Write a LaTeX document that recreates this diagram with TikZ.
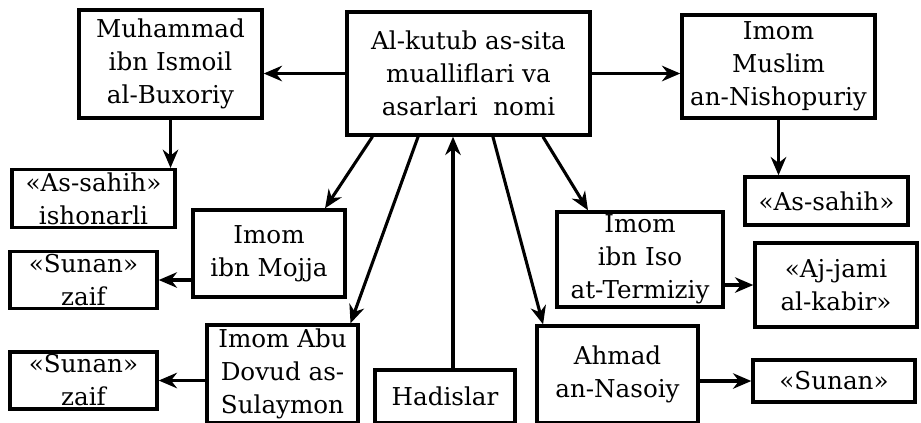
\documentclass[tikz,border=0pt]{standalone}
\usepackage{fontspec}
\setmainfont{DejaVu Serif}
\usetikzlibrary{arrows.meta}
\begin{document}
\begin{tikzpicture}[x=0.025cm, y=-0.025cm,
    box/.style={rectangle, draw, line width=2.4pt, align=center, inner sep=2pt, font=\fontsize{17.5}{23.5}\selectfont},
    arr/.style={-{Stealth[length=13pt,width=11pt]}, line width=2.2pt}]

    \useasboundingbox (0,0) rectangle (921,422);

    % Central box and the authors
    \node[box, minimum width=6.075cm, minimum height=3.075cm] (main) at (468.5,73.5) {Al-kutub as-sita\\ mualliflari va\\ asarlari\ \ nomi};
    \node[box, minimum width=4.575cm, minimum height=2.7cm] (bux) at (170.5,64) {Muhammad\\ ibn Ismoil\\ al-Buxoriy};
    \node[box, minimum width=4.825cm, minimum height=2.575cm] (mus) at (778.5,66.5) {Imom\\ Muslim\\ an-Nishopuriy};
    \node[box, minimum width=3.8cm, minimum height=2.175cm] (mojja) at (269,253.5) {Imom\\ ibn Mojja};
    \node[box, minimum width=3.775cm, minimum height=2.45cm] (dovud) at (282.5,374) {Imom Abu\\ Dovud as-\\ Sulaymon};
    \node[box, minimum width=3.5cm, minimum height=1.325cm] (hadis) at (445,396.5) {Hadislar};
    \node[box, minimum width=4.15cm, minimum height=2.375cm] (iso) at (640,259.5) {Imom\\ ibn Iso\\ at-Termiziy};
    \node[box, minimum width=4.025cm, minimum height=2.425cm] (nasoiy) at (617.5,374.5) {Ahmad\\ an-Nasoiy};

    % Their works
    \node[box, minimum width=4.075cm, minimum height=1.425cm] (sahihA) at (93.5,198.5) {«As-sahih»\\ ishonarli};
    \node[box, minimum width=4.075cm, minimum height=1.2cm] (sahihB) at (826.5,201) {«As-sahih»};
    \node[box, minimum width=3.675cm, minimum height=1.4cm] (sunanA) at (83.5,280) {«Sunan»\\ zaif};
    \node[box, minimum width=3.675cm, minimum height=1.325cm] (sunanB) at (83.5,380.5) {«Sunan»\\ zaif};
    \node[box, minimum width=4.05cm, minimum height=2.1cm] (jami) at (836,285) {«Aj-jami\\ al-kabir»};
    \node[box, minimum width=4.05cm, minimum height=1.05cm] (sunanC) at (834,381) {«Sunan»};

    % Arrows out of the central box
    \draw[arr] (main.west) -- (bux.east |- main.west);
    \draw[arr] (main.east) -- (mus.west |- main.east);
    \draw[arr] ([xshift=-2.4cm]main.south) -- ([xshift=1.4cm]mojja.north);
    \draw[arr] ([xshift=-1.26cm]main.south) -- ([xshift=1.7cm]dovud.north);
    \draw[arr] ([xshift=0.61cm]main.south) -- ([xshift=-1.86cm]nasoiy.north);
    \draw[arr] ([xshift=1.86cm]main.south) -- ([xshift=-1.3cm]iso.north);
    \draw[arr] ([xshift=0.2cm]hadis.north) -- ([xshift=0.2cm]hadis.north |- main.south);

    % Authors to works
    \draw[arr] (bux.south) -- (bux.south |- sahihA.north);
    \draw[arr] (mus.south) -- (mus.south |- sahihB.north);
    \foreach \a/\b in {mojja/sunanA, dovud/sunanB} {
        \draw[arr] (\a.west |- \b.east) -- (\b.east);
    }
    \foreach \a/\b in {iso/jami, nasoiy/sunanC} {
        \draw[arr] (\a.east |- \b.west) -- (\b.west);
    }
\end{tikzpicture}
\end{document}
